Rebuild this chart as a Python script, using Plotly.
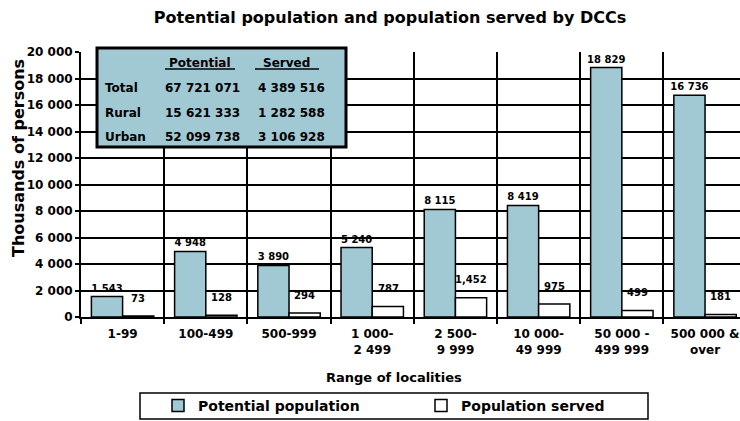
import plotly.graph_objects as go

categories = ["1-99", "100-499", "500-999", "1 000-<br>2 499", "2 500-<br>9 999",
              "10 000-<br>49 999", "50 000 -<br>499 999", "500 000 &<br>over"]
potential = [1543, 4948, 3890, 5240, 8115, 8419, 18829, 16736]
served = [73, 128, 294, 787, 1452, 975, 499, 181]
potential_labels = ["1 543", "4 948", "3 890", "5 240", "8 115", "8 419", "18 829", "16 736"]
served_labels = ["73", "128", "294", "787", "1,452", "975", "499", "181"]

table_header = ["Potential", "Served"]
table_rows = ["Total", "Rural", "Urban"]
table_potential = ["67 721 071", "15 621 333", "52 099 738"]
table_served = ["4 389 516", "1 282 588", "3 106 928"]

W, H = 740, 421
L, R, T, B = 81, 0, 52, 104
PW, PH = W - L - R, H - T - B
FONT = "DejaVu Sans"
BLUE = "#A0C9D3"

def px(x):
    return (x - L) / PW

def py(y):
    return (H - B - y) / PH

fig = go.Figure()
fig.add_trace(go.Bar(
    x=categories, y=potential, name="Potential population",
    marker=dict(color=BLUE, line=dict(color="black", width=1.5)),
    text=potential_labels, textposition="outside", constraintext="none",
    textfont=dict(family=FONT, size=10, color="black", weight="bold"),
    cliponaxis=False,
))
fig.add_trace(go.Bar(
    x=categories, y=served, name="Population served",
    marker=dict(color="white", line=dict(color="black", width=1.5)),
))

def bold(size):
    return dict(family=FONT, size=size, color="black", weight="bold")

annotations = []
for i, (v, t) in enumerate(zip(served, served_labels)):
    annotations.append(dict(x=i + 0.19, y=v, xref="x", yref="y", text=t, showarrow=False,
                            xanchor="center", yanchor="middle", yshift=18, font=bold(10)))

# inset table
shapes = [dict(type="rect", xref="paper", yref="paper", x0=px(97), x1=px(346), y0=py(147), y1=py(48),
               fillcolor=BLUE, line=dict(color="black", width=3), layer="above")]
hdr_x = [200, 286]
for hx, h in zip(hdr_x, table_header):
    annotations.append(dict(x=px(hx), y=py(63), xref="paper", yref="paper", text=h, showarrow=False,
                            xanchor="center", yanchor="middle", font=bold(12)))
shapes.append(dict(type="line", xref="paper", yref="paper", x0=px(165), x1=px(235), y0=py(69), y1=py(69),
                   line=dict(color="black", width=1.5), layer="above"))
shapes.append(dict(type="line", xref="paper", yref="paper", x0=px(255), x1=px(319), y0=py(69), y1=py(69),
                   line=dict(color="black", width=1.5), layer="above"))
row_y = [88, 113, 137]
for ry, rl, p, s in zip(row_y, table_rows, table_potential, table_served):
    annotations.append(dict(x=px(103), y=py(ry), xref="paper", yref="paper", text=rl, showarrow=False,
                            xanchor="left", yanchor="middle", font=bold(12)))
    annotations.append(dict(x=px(202), y=py(ry), xref="paper", yref="paper", text=p, showarrow=False,
                            xanchor="center", yanchor="middle", font=bold(12)))
    annotations.append(dict(x=px(291), y=py(ry), xref="paper", yref="paper", text=s, showarrow=False,
                            xanchor="center", yanchor="middle", font=bold(12)))

# y axis title
annotations.append(dict(x=px(18), y=py(158), xref="paper", yref="paper", text="Thousands of persons",
                        showarrow=False, textangle=-90, xanchor="center", yanchor="middle", font=bold(16)))
# x axis title
annotations.append(dict(x=px(394), y=py(377), xref="paper", yref="paper", text="Range of localities",
                        showarrow=False, xanchor="center", yanchor="middle", font=bold(13)))
# legend box
shapes.append(dict(type="rect", xref="paper", yref="paper", x0=px(140), x1=px(648), y0=py(419), y1=py(393),
                   line=dict(color="black", width=1.5), fillcolor="rgba(0,0,0,0)"))

fig.update_layout(
    width=W, height=H, margin=dict(l=L, r=R, t=T, b=B, autoexpand=False),
    paper_bgcolor="white", plot_bgcolor="white",
    separators=". ",
    barmode="group", bargap=0.25, bargroupgap=0,
    title=dict(text="Potential population and population served by DCCs", x=390 / W, xanchor="center",
               y=1 - 17 / H, yanchor="middle", font=bold(16)),
    showlegend=True,
    legend=dict(orientation="h", x=px(158), xanchor="left", y=py(406), yanchor="middle",
                entrywidth=218, entrywidthmode="pixels", bgcolor="rgba(0,0,0,0)",
                font=bold(14)),
    annotations=annotations, shapes=shapes,
)
fig.update_xaxes(
    type="category", range=[-0.5, 7.42],
    tickson="boundaries", ticks="outside", ticklen=5, tickcolor="black", tickwidth=1.5,
    ticklabelstandoff=5,
    showgrid=True, gridcolor="black", gridwidth=1.5,
    showline=True, linecolor="black", linewidth=2,
    tickfont=bold(12),
)
fig.update_yaxes(
    range=[0, 20000], dtick=2000, tickformat=",d",
    ticks="outside", ticklen=4, tickcolor="black", tickwidth=1.5,
    showgrid=True, gridcolor="black", gridwidth=1.5,
    showline=True, linecolor="black", linewidth=2, zeroline=False,
    tickfont=bold(12),
)

fig.write_html("out.html")
